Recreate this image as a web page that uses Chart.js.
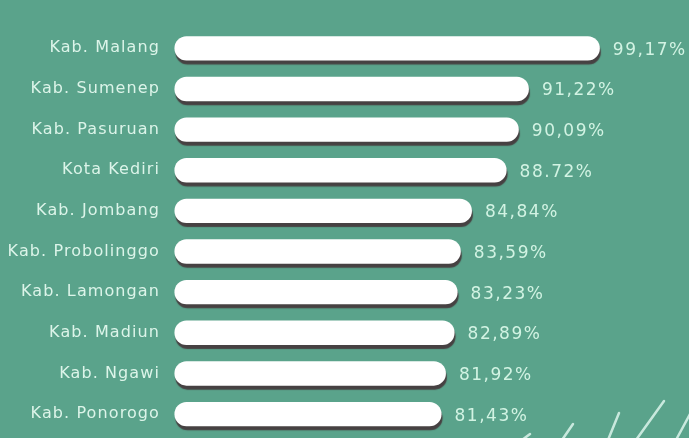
<!DOCTYPE html>
<html>
<head>
<meta charset="utf-8">
<script src="https://cdn.jsdelivr.net/npm/chart.js@4"></script>
<style>
  html, body { margin: 0; padding: 0; background: #5aa38b; overflow: hidden; }
  .wrap { position: relative; width: 689px; height: 458px; }
</style>
</head>
<body>
<div class="wrap"><canvas id="bars"></canvas></div>
<script>
const REGIONS = ['Kab. Malang', 'Kab. Sumenep', 'Kab. Pasuruan', 'Kota Kediri', 'Kab. Jombang',
  'Kab. Probolinggo', 'Kab. Lamongan', 'Kab. Madiun', 'Kab. Ngawi', 'Kab. Ponorogo'];
const VALUES = [99.17, 91.22, 90.09, 88.72, 84.84, 83.59, 83.23, 82.89, 81.92, 81.43];
const VALUE_TEXT = ['99,17%', '91,22%', '90,09%', '88.72%', '84,84%', '83,59%', '83,23%', '82,89%', '81,92%', '81,43%'];

const TEXT = '#dcf4e9';
const X_MIN = 51.45;

// dark drop shadow under the white bars
const barShadow = {
  id: 'barShadow',
  beforeDraw(chart) {
    chart.ctx.letterSpacing = '1.1px';
  },
  beforeDatasetsDraw(chart) {
    const ctx = chart.ctx;
    ctx.save();
    ctx.shadowColor = 'rgba(70,60,62,0.95)';
    ctx.shadowOffsetX = 1;
    ctx.shadowOffsetY = 4;
    ctx.shadowBlur = 1;
  },
  afterDatasetsDraw(chart) {
    chart.ctx.restore();
  }
};

const valueLabels = {
  id: 'valueLabels',
  afterDraw(chart) {
    const ctx = chart.ctx;
    const meta = chart.getDatasetMeta(0);
    ctx.save();
    ctx.fillStyle = '#d2f3e3';
    ctx.font = '17px "DejaVu Sans"';
    ctx.letterSpacing = '1.5px';
    ctx.textBaseline = 'middle';
    meta.data.forEach((bar, i) => {
      ctx.fillText(VALUE_TEXT[i], bar.x + 13, bar.y + 2);
    });
    ctx.restore();
  }
};

// little slanted strokes in the bottom right corner
const corner = {
  id: 'corner',
  afterDraw(chart) {
    const ctx = chart.ctx;
    ctx.save();
    ctx.strokeStyle = 'rgba(220,245,235,0.85)';
    ctx.lineWidth = 2.5;
    ctx.lineCap = 'round';
    [[522, 440, 530, 434], [562, 440, 573, 424], [608, 440, 619, 413], [636, 440, 664, 401], [676, 440, 690, 414]]
      .forEach(s => { ctx.beginPath(); ctx.moveTo(s[0], s[1]); ctx.lineTo(s[2], s[3]); ctx.stroke(); });
    ctx.restore();
  }
};

new Chart(document.getElementById('bars'), {
  type: 'bar',
  data: {
    labels: REGIONS,
    datasets: [{
      data: VALUES,
      base: X_MIN + 0.05,
      backgroundColor: '#ffffff',
      borderRadius: 12,
      borderSkipped: false,
      categoryPercentage: 1,
      barPercentage: 0.6
    }]
  },
  options: {
    indexAxis: 'y',
    responsive: true,
    maintainAspectRatio: false,
    animation: false,
    layout: { padding: { top: 28, bottom: 6, right: 10, left: 0 } },
    plugins: { legend: { display: false }, tooltip: { enabled: false } },
    scales: {
      x: { display: false, min: X_MIN, max: 108.04 },
      y: {
        grid: { display: false, drawTicks: false },
        border: { display: false },
        afterFit: s => { s.width = 174; },
        ticks: { color: TEXT, padding: 14, font: { family: 'DejaVu Sans', size: 16 } }
      }
    }
  },
  plugins: [barShadow, valueLabels, corner]
});
</script>
</body>
</html>
